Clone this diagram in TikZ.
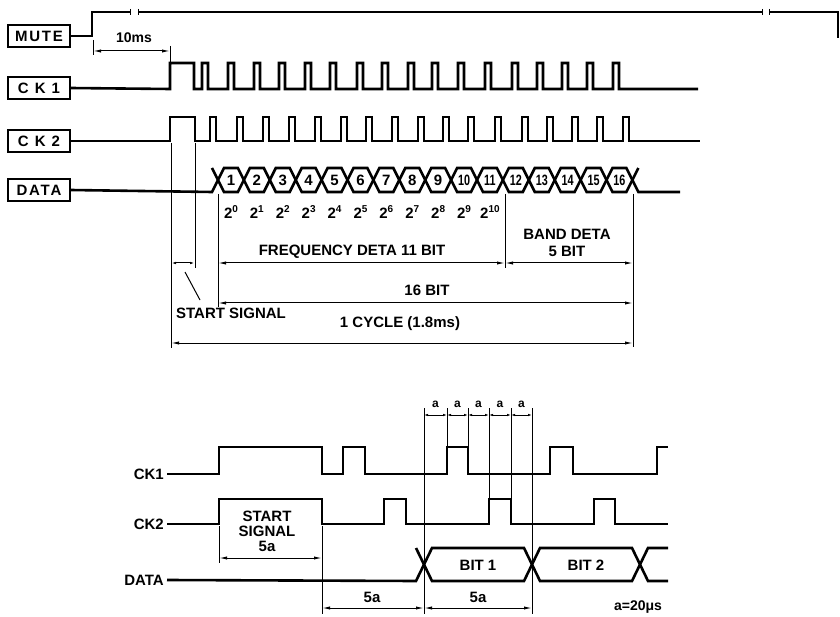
\documentclass[tikz,border=0pt]{standalone}
\usepackage{fontspec}
\setmainfont{Liberation Sans}
\newfontfamily\spacedA[LetterSpace=12]{Liberation Sans}
\newfontfamily\spacedB[LetterSpace=40]{Liberation Sans}
\usetikzlibrary{arrows.meta}
\begin{document}
\begin{tikzpicture}[x=1pt,y=-1pt,
  wave/.style={line width=2.6pt, line join=miter},
  thinwave/.style={line width=1.9pt},
  dim/.style={line width=1pt},
  arr/.style={dim,{Latex[length=8pt,width=3.2pt]}-{Latex[length=8pt,width=3.2pt]}},
  lab/.style={draw, line width=1.3pt, minimum width=62pt, minimum height=22pt, inner sep=0pt, font=\fontsize{15}{15}\selectfont\bfseries},
  txt/.style={font=\fontsize{15}{15}\selectfont\bfseries, inner sep=1pt},
  small/.style={font=\fontsize{12}{12}\selectfont\bfseries, inner sep=1pt},
  hexnum/.style={font=\fontsize{15}{15}\selectfont\bfseries, inner sep=0pt},
  blab/.style={font=\fontsize{15}{15}\selectfont\bfseries, anchor=east, inner sep=3pt}]
\useasboundingbox (0,0) rectangle (840,617);

% ---------- upper diagram: labels ----------
\node[lab] (mute) at (39,36) {\spacedA MUTE};
\node[lab] (ck1) at (39,88) {\spacedB CK1};
\node[lab] (ck2) at (39,141) {\spacedB CK2};
\node[lab] (data) at (39,190) {\spacedA DATA};

% MUTE
\draw[thinwave] (mute.east) -- (92,36) -- (92,12) -- (130,12);
\draw[thinwave] (138,12) -- (762,12);
\draw[thinwave] (769,12) -- (838,12) -- (838,38);
\draw[dim] (130,9) -- (130,15) (138,9) -- (138,15) (762,9) -- (762,15) (769,9) -- (769,15);

% CK1
\draw[wave] (ck1.east) -- (170,89) -- (170,63) -- (194,63) -- (194,89)
  foreach \p in {202,228,254,279,305,330,357,382,408,432,458,485,512,537,562,587,613}
  { -- (\p,89) -- (\p,63) -- (\p+6,63) -- (\p+6,89) } -- (698,89);

% CK2
\draw[wave] (ck2.east) -- (170,141) -- (170,117) -- (195,117) -- (195,141)
  foreach \p in {210,237,263,289,315,341,366,392,418,443,468,495,522,547,572,597,623}
  { -- (\p,141) -- (\p,117) -- (\p+6,117) -- (\p+6,141) } -- (700,141);

% DATA hexagons
\draw[wave] (data.east) -- (212,192) -- (218,180) (212,168) -- (218,180);
\foreach \k in {0,...,15} {
  \pgfmathsetmacro{\xa}{218+25.9*\k}
  \pgfmathsetmacro{\xb}{218+25.9*(\k+1)}
  \pgfmathsetmacro{\xc}{(\xa+\xb)/2}
  \pgfmathtruncatemacro{\n}{\k+1}
  \draw[wave] (\xa,180) -- (\xa+6,168) -- (\xb-6,168) -- (\xb,180) -- (\xb-6,192) -- (\xa+6,192) -- cycle;
  \ifnum\n<10
    \node[hexnum] (h\n) at (\xc,180.5) {\n};
  \else
    \node[hexnum] (h\n) at (\xc,180.5) {\scalebox{0.72}[1]{\n}};
  \fi
}
\draw[wave] (632.4,180) -- (638.4,192) -- (680,192) (632.4,180) -- (638.4,168);

% powers of two
\foreach \k in {0,...,10} {
  \pgfmathsetmacro{\xc}{218+25.9*\k+12.95}
  \node[txt] (p\k) at (\xc,212) {2\raisebox{5.5pt}{\fontsize{10}{10}\selectfont\k}};
}

% 10ms
\draw[dim] (93,40) -- (93,55) (170,46) -- (170,62);
\draw[arr] (93,51) -- (170,51);
\node[txt, font=\fontsize{14}{14}\selectfont\bfseries] (tms) at (134,38) {10ms};

% vertical reference lines
\draw[dim] (171,143) -- (171,348);
\draw[dim] (195,143) -- (195,268);
\draw[dim] (218,194) -- (218,307);
\draw[dim] (505,194) -- (505,268);
\draw[dim] (633,194) -- (633,347);

% dimensions
\draw[dim,{Latex[length=5pt,width=2.5pt]}-{Latex[length=5pt,width=2.5pt]}] (171,263) -- (195,263);
\draw[arr] (218,263) -- (505,263);
\draw[arr] (505,263) -- (633,263);
\draw[arr] (218,303) -- (633,303);
\draw[arr] (171,343) -- (633,343);
\draw[dim] (185,272) -- (200,300);

\node[txt] (tfreq) at (352,252) {FREQUENCY DETA 11 BIT};
\node[txt, align=center] (tband) at (567,243) {BAND DETA\\[2pt]5 BIT};
\node[txt] (t16) at (427,290) {16 BIT};
\node[txt] (tstart) at (231,313) {START SIGNAL};
\node[txt] (tcyc) at (400,324) {1 CYCLE (1.8ms)};

% ---------- lower diagram ----------
\node[blab] (bck1) at (167,474) {CK1};
\node[blab] (bck2) at (167,524) {CK2};
\node[blab] (bdata) at (167,580) {DATA};

\draw[wave] (bck1.east) -- (219,474) -- (219,447) -- (322,447) -- (322,474) -- (343,474) -- (343,447) -- (365,447) -- (365,474)
  -- (447,474) -- (447,447) -- (468,447) -- (468,474) -- (550,474) -- (550,447) -- (573,447) -- (573,474)
  -- (657,474) -- (657,447) -- (668,447);
\draw[wave] (bck2.east) -- (219,524) -- (219,499) -- (322,499) -- (322,524) -- (384,524) -- (384,499) -- (406,499) -- (406,524)
  -- (489,524) -- (489,499) -- (511,499) -- (511,524) -- (594,524) -- (594,499) -- (615,499) -- (615,524) -- (668,524);
\draw[wave] (bdata.east) -- (416,581) -- (432,548) -- (524,548) -- (540,581) -- (632,581) -- (648,548) -- (668,548);
\draw[wave] (416,548) -- (432,581) -- (524,581) -- (540,548) -- (632,548) -- (648,581) -- (668,581);

\node[txt] (bit1) at (478,565) {BIT 1};
\node[txt] (bit2) at (586,565) {BIT 2};

% lower reference lines
\draw[dim] (219,526) -- (219,563);
\draw[dim] (322,526) -- (322,614);
\draw[dim] (424,408) -- (424,614);
\draw[dim] (447,408) -- (447,446);
\draw[dim] (468,408) -- (468,446);
\draw[dim] (489,408) -- (489,498);
\draw[dim] (511,408) -- (511,498);
\draw[dim] (532,408) -- (532,614);

% a dimensions
\foreach \xa/\xb in {424/447,447/468,468/489,489/511,511/532} {
  \draw[dim,{Latex[length=4pt,width=2.5pt]}-{Latex[length=4pt,width=2.5pt]}] (\xa,415) -- (\xb,415);
  \node[small] at ({(\xa+\xb)/2},404) {a};
}

\draw[arr] (219,558) -- (322,558);
\node[txt, align=center] (tss) at (267,531) {START\\[0pt]SIGNAL\\[0pt]5a};
\draw[arr] (322,608) -- (424,608);
\draw[arr] (424,608) -- (532,608);
\node[txt] (t5a1) at (372,597) {5a};
\node[txt] (t5a2) at (478,597) {5a};
\node[txt, font=\fontsize{14}{14}\selectfont\bfseries] (ta) at (638,607) {a=20μs};
\end{tikzpicture}
\end{document}
